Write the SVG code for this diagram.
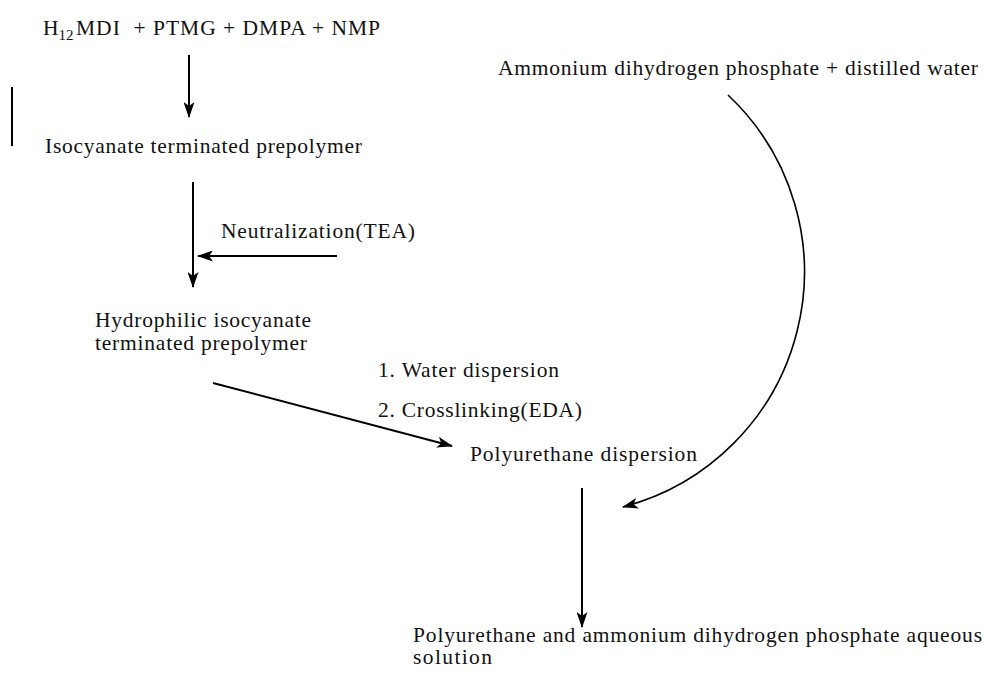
<svg xmlns="http://www.w3.org/2000/svg" width="985" height="674" viewBox="0 0 985 674">
<style>
text{font-family:"Liberation Serif","Times New Roman",serif;font-size:21.5px;fill:#111}
.ln{stroke:#000;stroke-width:2;fill:none}
.cv{stroke:#000;stroke-width:1.6;fill:none}
</style>
<defs>
<marker id="ah" viewBox="0 0 16 11" refX="15" refY="5.5" markerWidth="16" markerHeight="11" markerUnits="userSpaceOnUse" orient="auto">
<path d="M0,0 L16,5.5 L0,11 L4,5.5 Z" fill="#000"/>
</marker>
</defs>
<rect width="985" height="674" fill="#fff"/>
<g id="n1"><text x="43" y="35">H<tspan font-size="15" dy="5">12</tspan></text><text x="76" y="35" textLength="304" lengthAdjust="spacing">MDI&#160; + PTMG + DMPA + NMP</text></g>
<g id="n2"><text x="45" y="153" textLength="317" lengthAdjust="spacing">Isocyanate terminated prepolymer</text></g>
<g id="n3"><text x="95" y="327" textLength="216" lengthAdjust="spacing">Hydrophilic isocyanate</text><text x="95" y="350" textLength="212" lengthAdjust="spacing">terminated prepolymer</text></g>
<g id="n4"><text x="470" y="461" textLength="227" lengthAdjust="spacing">Polyurethane dispersion</text></g>
<g id="n5"><text x="498" y="75" textLength="480" lengthAdjust="spacing">Ammonium dihydrogen phosphate + distilled water</text></g>
<g id="n6"><text x="413" y="642" textLength="569" lengthAdjust="spacing">Polyurethane and ammonium dihydrogen phosphate aqueous</text><text x="413" y="664" textLength="79" lengthAdjust="spacing">solution</text></g>
<g id="labels">
<text x="221" y="238" textLength="194" lengthAdjust="spacing">Neutralization(TEA)</text>
<text x="378" y="377" textLength="181" lengthAdjust="spacing">1. Water dispersion</text>
<text x="378" y="417" textLength="204" lengthAdjust="spacing">2. Crosslinking(EDA)</text>
</g>
<g id="connectors">
<line class="ln" x1="12" y1="87" x2="12" y2="146"/>
<line class="ln" x1="189" y1="55" x2="189" y2="117" marker-end="url(#ah)"/>
<line class="ln" x1="193" y1="182" x2="193" y2="287" marker-end="url(#ah)"/>
<line class="ln" x1="337" y1="256" x2="198" y2="256" marker-end="url(#ah)"/>
<line class="ln" x1="213" y1="383" x2="452" y2="446" marker-end="url(#ah)"/>
<path class="cv" d="M728,95 A243,243 0 0,1 623,507" marker-end="url(#ah)"/>
<line class="ln" x1="582" y1="488" x2="582" y2="627" marker-end="url(#ah)"/>
</g>
</svg>
